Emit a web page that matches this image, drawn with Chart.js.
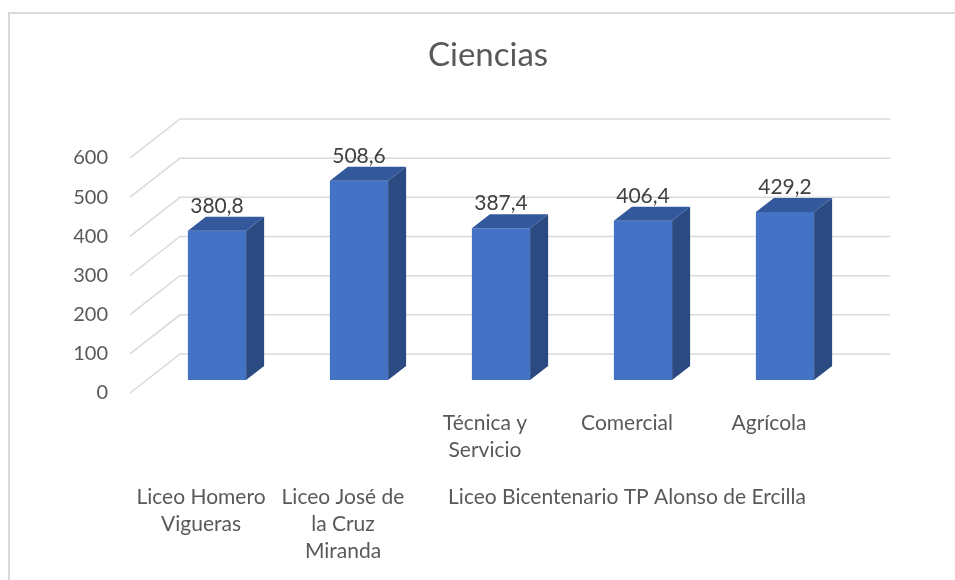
<!DOCTYPE html>
<html>
<head>
<meta charset="utf-8">
<script src="https://cdn.jsdelivr.net/npm/chart.js@4"></script>
<style>
  html, body { margin: 0; padding: 0; background: #fff; overflow: hidden; }
  #wrap { position: relative; width: 955px; height: 580px; }
  #frame {
    position: absolute; left: 8px; top: 12px; width: 1000px; height: 700px;
    border: 2px solid #d9d9d9; pointer-events: none;
  }
</style>
</head>
<body>
<div id="wrap">
  <canvas id="chart"></canvas>
  <div id="frame"></div>
</div>
<script>
const subLabels = ["", "", ["Técnica y", "Servicio"], "Comercial", "Agrícola"];
const schoolLabels = [
  ["Liceo Homero", "Vigueras"],
  ["Liceo José de", "la Cruz", "Miranda"],
  "",
  "Liceo Bicentenario TP Alonso de Ercilla",
  ""
];
const scores = [380.8, 508.6, 387.4, 406.4, 429.2];
const yTicks = [0, 100, 200, 300, 400, 500, 600];

const FONT = "Lato, 'Open Sans', sans-serif";
const DEPTH_X = 18, DEPTH_Y = 14;

// 3D floor/wall gridlines
const wallGrid = {
  id: "wallGrid",
  beforeDatasetsDraw(chart) {
    const { ctx, chartArea } = chart;
    const y = chart.scales.y;
    ctx.save();
    ctx.strokeStyle = "#d9d9d9";
    ctx.lineWidth = 1.5;
    yTicks.forEach(v => {
      const py = y.getPixelForValue(v);
      ctx.beginPath();
      ctx.moveTo(chartArea.left - 16, py + 13);
      ctx.lineTo(chartArea.left + 34, py - 26);
      ctx.lineTo(chartArea.right + 34, py - 26);
      ctx.stroke();
    });
    ctx.restore();
  }
};

// side + top faces of the bars, plus value labels
const bars3d = {
  id: "bars3d",
  afterDatasetsDraw(chart) {
    const { ctx } = chart;
    const meta = chart.getDatasetMeta(0);
    ctx.save();
    meta.data.forEach((bar, i) => {
      const { x, y, base, width } = bar.getProps(["x", "y", "base", "width"], true);
      const l = x - width / 2, r = x + width / 2;

      ctx.fillStyle = "#2b4a82";
      ctx.beginPath();
      ctx.moveTo(r, base);
      ctx.lineTo(r + DEPTH_X, base - DEPTH_Y);
      ctx.lineTo(r + DEPTH_X, y - DEPTH_Y);
      ctx.lineTo(r, y);
      ctx.closePath();
      ctx.fill();

      ctx.fillStyle = "#34589c";
      ctx.beginPath();
      ctx.moveTo(l, y);
      ctx.lineTo(l + DEPTH_X, y - DEPTH_Y);
      ctx.lineTo(r + DEPTH_X, y - DEPTH_Y);
      ctx.lineTo(r, y);
      ctx.closePath();
      ctx.fill();

      ctx.fillStyle = "#404040";
      ctx.font = "21px " + FONT;
      ctx.textAlign = "center";
      ctx.textBaseline = "middle";
      ctx.fillText(String(scores[i]).replace(".", ","), x, y - 25);
    });
    ctx.restore();
  }
};

new Chart(document.getElementById("chart"), {
  type: "bar",
  data: {
    labels: subLabels,
    datasets: [{
      data: scores,
      backgroundColor: "#4472c4",
      borderWidth: 0,
      barPercentage: 0.41,
      categoryPercentage: 1
    }]
  },
  options: {
    responsive: true,
    maintainAspectRatio: false,
    animation: false,
    layout: { padding: { left: 21, right: 0, top: 0, bottom: 0 } },
    plugins: {
      legend: { display: false },
      tooltip: { enabled: false },
      title: {
        display: true,
        text: "Ciencias",
        color: "#595959",
        font: { family: FONT, size: 33, weight: "normal", lineHeight: 1.2 },
        padding: { top: 36, bottom: 69.4 }
      }
    },
    scales: {
      x: {
        weight: 0,
        grid: { display: false, drawTicks: false },
        border: { display: false },
        ticks: {
          color: "#595959",
          font: { family: FONT, size: 21, lineHeight: "27px" },
          padding: 30,
          labelOffset: -16,
          autoSkip: false,
          maxRotation: 0
        },
        afterFit(s) { s.height = 90; }
      },
      x2: {
        type: "category",
        position: "bottom",
        weight: 1,
        labels: schoolLabels,
        grid: { display: false, drawTicks: false },
        border: { display: false },
        ticks: {
          color: "#595959",
          font: { family: FONT, size: 21, lineHeight: "27px" },
          padding: 14,
          labelOffset: -16,
          autoSkip: false,
          maxRotation: 0
        },
        afterFit(s) { s.height = 110; }
      },
      y: {
        min: 0,
        max: 600,
        grid: { display: false, drawTicks: false },
        border: { display: false },
        ticks: {
          stepSize: 100,
          color: "#595959",
          font: { family: FONT, size: 20 },
          padding: 38,
          labelOffset: 13
        },
        afterFit(s) { s.width = 125; }
      },
      // empty right-hand gutter so the wall can extend past the bars
      yr: {
        type: "linear",
        position: "right",
        grid: { display: false, drawTicks: false },
        border: { display: false },
        ticks: { display: false },
        afterFit(s) { s.width = 99; }
      }
    }
  },
  plugins: [wallGrid, bars3d]
});
</script>
</body>
</html>
